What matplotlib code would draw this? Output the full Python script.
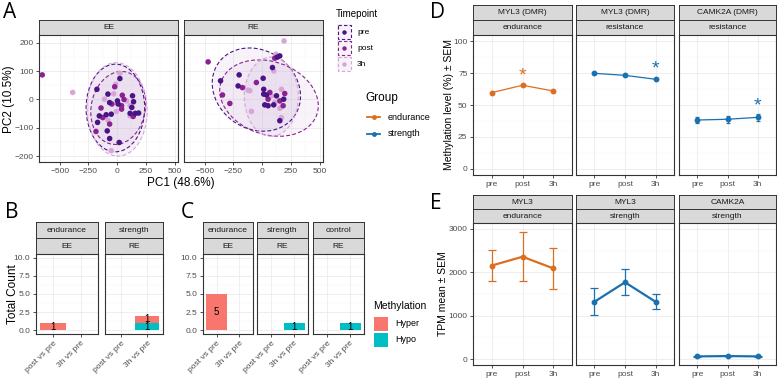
import numpy as np
import matplotlib
matplotlib.use('Agg')
import matplotlib.pyplot as plt
from matplotlib.patches import Ellipse, Rectangle
from matplotlib.lines import Line2D

plt.rcParams['font.family'] = ['Liberation Sans', 'DejaVu Sans']

# ---------------- DATA ----------------
timepoints = ['pre', 'post', '3h']
tp_colors = {'pre': '#4A1486', 'post': '#8A2291', '3h': '#D8A5D8'}

EE_pc1 = [-652, -387, 24, 24, -12, -21, -176, 45, 134, -80, -110, -65, -45, 3, 9, 39, 83, 143, 128, 113,
          39, -6, -51, -95, -125, -155, -170, -80, 113, 158, 187, 113, -65, -86, -184, -65, 18, -51, 60, -30, 140, -140]
EE_pc2 = [87, 25, 93, 74, 54, 45, 36, 15, 13, 19, 1, -11, -16, -5, -16, -22, -5, -8, -28, -22,
          -34, -42, -52, -54, -64, -58, -81, -73, -49, -49, -48, -58, -87, -111, -113, -138, -152, -181, 0, 20, -60, -30]
EE_tp = ['post', '3h', '3h', 'pre', '3h', 'post', 'pre', 'post', 'pre', 'pre', '3h', 'pre', 'post', 'pre', 'pre',
         'post', '3h', 'pre', 'pre', '3h', 'post', '3h', 'pre', 'pre', 'post', 'pre', 'pre', '3h', 'pre', 'pre',
         'pre', '3h', 'post', 'pre', 'post', 'pre', 'pre', '3h', 'post', '3h', 'post', 'post']

RE_pc1 = [-470, 191, 154, 133, 110, 90, 101, 9, -200, -362, -209, -171, -122, -107, 14, -345, 14, 38, 67, 81,
          168, 197, 125, 188, 52, 110, 154, 23, 52, 101, 183, 154, -281, -93, 168, 154, 120, -50]
RE_pc2 = [133, 207, 154, 150, 146, 113, 101, 75, 87, 66, 48, 42, 33, 31, 36, 16, 19, 16, 25, 13,
          36, 21, 13, 1, 1, -11, -5, -19, -22, -19, -22, -31, -14, -42, -64, -75, 160, 60]
RE_tp = ['post', '3h', 'pre', 'pre', 'post', 'pre', '3h', 'pre', 'pre', 'pre', 'pre', 'post', '3h', '3h', 'pre',
         'post', 'pre', 'pre', 'post', '3h', '3h', 'post', 'pre', 'pre', 'post', '3h', 'post', 'pre', 'pre', 'pre',
         'post', '3h', 'post', '3h', '3h', 'pre', '3h', 'post']

# ellipse parameters per timepoint (cx, cy, semi-x, semi-y, angle)
EE_ell = {'pre': (-15, -30, 255, 155, 0), 'post': (10, -30, 240, 128, 5), '3h': (0, -35, 262, 165, -2)}
RE_ell = {'pre': (-50, 35, 385, 145, -4), 'post': (60, 5, 430, 132, -4), '3h': (80, 10, 235, 140, 0)}

comparisons = ['post vs pre', '3h vs pre']
B_facets = [('endurance', 'EE'), ('strength', 'RE')]
B_hyper = [[1, 0], [0, 1]]
B_hypo = [[0, 0], [0, 1]]
C_facets = [('endurance', 'EE'), ('strength', 'RE'), ('control', 'RE')]
C_hyper = [[5, 0], [0, 0], [0, 0]]
C_hypo = [[0, 0], [0, 1], [0, 1]]
meth_colors = {'Hyper': '#F8766D', 'Hypo': '#00BFC4'}

group_colors = {'endurance': '#DC6E1F', 'strength': '#1B70AF'}

D_titles = [('MYL3 (DMR)', 'endurance'), ('MYL3 (DMR)', 'resistance'), ('CAMK2A (DMR)', 'resistance')]
D_groups = ['endurance', 'strength', 'strength']
D_mean = [[59.7, 65.5, 61.0], [74.9, 73.3, 70.2], [38.2, 38.8, 40.3]]
D_sem = [[0.8, 0.8, 0.8], [0.6, 0.6, 0.6], [2.7, 2.7, 2.7]]
D_star = [[None, 72.8, None], [None, None, 78.0], [None, None, 49.5]]

E_titles = [('MYL3', 'endurance'), ('MYL3', 'strength'), ('CAMK2A', 'strength')]
E_groups = ['endurance', 'strength', 'strength']
E_mean = [[2155, 2360, 2090], [1320, 1770, 1320], [60, 68, 60]]
E_sem = [[365, 570, 470], [310, 300, 172], [8, 8, 8]]

# ---------------- LAYOUT HELPERS ----------------
W, H = 777, 378
fig = plt.figure(figsize=(W / 100, H / 100), dpi=100)

STRIP_FC = '#D9D9D9'
BORDER = '#333333'
GRID = '#EBEBEB'
TICKC = '#4D4D4D'


def ax_px(x0, y0, x1, y1, **kw):
    return fig.add_axes([x0 / W, 1 - y1 / H, (x1 - x0) / W, (y1 - y0) / H], **kw)


def ftext(x, y, s, **kw):
    fig.text(x / W, 1 - y / H, s, **kw)


def strip(x0, y0, x1, y1, text):
    a = ax_px(x0, y0, x1, y1)
    a.set_xticks([]); a.set_yticks([])
    a.set_facecolor(STRIP_FC)
    for s in a.spines.values():
        s.set_color(BORDER); s.set_linewidth(0.7)
    a.text(0.5, 0.48, text, ha='center', va='center', fontsize=6, color='#1A1A1A', transform=a.transAxes)
    return a


def panel(x0, y0, x1, y1):
    a = ax_px(x0, y0, x1, y1)
    for s in a.spines.values():
        s.set_color(BORDER); s.set_linewidth(0.8)
    a.tick_params(which='major', colors=BORDER, labelcolor=TICKC, labelsize=6, length=2.5, width=0.6, pad=1.5)
    a.tick_params(which='minor', length=0)
    a.grid(True, which='major', color=GRID, lw=0.6)
    a.grid(True, which='minor', color='#F4F4F4', lw=0.35)
    a.set_axisbelow(True)
    return a


LETTER = dict(fontsize=15, family=['Open Sans', 'DejaVu Sans'], color='black', va='center', ha='left')

# ---------------- PANEL A ----------------
ftext(3, 12, 'A', **LETTER)
A_x = [(39, 178), (184, 323)]
A_data = [(EE_pc1, EE_pc2, EE_tp, EE_ell, 'EE'), (RE_pc1, RE_pc2, RE_tp, RE_ell, 'RE')]
for i, ((x0, x1), (p1, p2, tps, ell, name)) in enumerate(zip(A_x, A_data)):
    strip(x0, 20, x1, 35, name)
    a = panel(x0, 35, x1, 162)
    a.set_xlim(-680, 530)
    a.set_ylim(-221, 228)
    a.set_xticks([-500, -250, 0, 250, 500])
    a.set_xticks([-625, -375, -125, 125, 375], minor=True)
    a.set_yticks([-200, -100, 0, 100, 200])
    a.set_yticks([-150, -50, 50, 150], minor=True)
    if i > 0:
        a.tick_params(axis='y', labelleft=False, length=0)
    for tp in timepoints:
        cx, cy, sa, sb, ang = ell[tp]
        a.add_patch(Ellipse((cx, cy), 2 * sa, 2 * sb, angle=ang, facecolor='#C9A9D6', alpha=0.13,
                            edgecolor='none', zorder=2))
        a.add_patch(Ellipse((cx, cy), 2 * sa, 2 * sb, angle=ang, facecolor='none', edgecolor=tp_colors[tp],
                            lw=0.8, ls=(0, (3.5, 2)), zorder=3))
    p1 = np.array(p1); p2 = np.array(p2); tps = np.array(tps)
    for tp in ['3h', 'post', 'pre']:
        m = tps == tp
        a.scatter(p1[m], p2[m], s=16, color=tp_colors[tp], edgecolors='none', zorder=4)
ftext(9, 99, 'PC2 (10.5%)', fontsize=8.5, rotation=90, ha='center', va='center', color='black')
ftext(181, 183, 'PC1 (48.6%)', fontsize=8.5, ha='center', va='center', color='black')

# legends (figure-pixel overlay)
ov = fig.add_axes([0, 0, 1, 1], zorder=-5)
ov.set_xlim(0, W); ov.set_ylim(H, 0); ov.axis('off')
ov.text(336, 14, 'Timepoint', fontsize=7, va='center', ha='left')
for k, tp in enumerate(timepoints):
    y0 = 24 + k * 16
    ov.add_patch(Rectangle((337, y0), 14, 15, facecolor='#C9A9D6', alpha=0.15, edgecolor='none'))
    ov.add_patch(Rectangle((337.5, y0 + 0.5), 13, 14, facecolor='none', edgecolor=tp_colors[tp], lw=0.8,
                           ls=(0, (3, 2))))
    ov.plot([344], [y0 + 7.5], 'o', ms=3.2, color=tp_colors[tp], mec='none')
    ov.text(357, y0 + 8, tp, fontsize=6, va='center', ha='left')
ov.text(365, 98, 'Group', fontsize=8.5, va='center', ha='left')
for k, g in enumerate(['endurance', 'strength']):
    y = 117 + k * 16.5
    ov.plot([367, 380], [y, y], '-', color=group_colors[g], lw=1.3)
    ov.plot([373.5], [y], 'o', ms=2.5, color=group_colors[g])
    ov.text(388, y, g, fontsize=6.5, va='center', ha='left')

# ---------------- PANELS B, C ----------------
def bar_facets(xs, facets, hyper, hypo):
    for i, ((x0, x1), (t1, t2)) in enumerate(zip(xs, facets)):
        strip(x0, 222, x1, 238, t1)
        strip(x0, 238, x1, 254, t2)
        a = panel(x0, 254, x1, 334)
        pos = np.arange(len(comparisons))
        a.bar(pos, hypo[i], width=0.9, color=meth_colors['Hypo'], zorder=3)
        a.bar(pos, hyper[i], width=0.9, bottom=hypo[i], color=meth_colors['Hyper'], zorder=3)
        for j in range(len(comparisons)):
            if hypo[i][j] > 0:
                a.text(pos[j], hypo[i][j] / 2, str(hypo[i][j]), ha='center', va='center', fontsize=7, zorder=5)
            if hyper[i][j] > 0:
                a.text(pos[j], hypo[i][j] + hyper[i][j] / 2, str(hyper[i][j]), ha='center', va='center',
                       fontsize=7, zorder=5)
        a.set_xlim(-0.6, 1.6)
        a.set_ylim(-0.5, 10.5)
        a.set_yticks([0, 2.5, 5, 7.5, 10])
        a.set_yticklabels(['0.0', '2.5', '5.0', '7.5', '10.0'])
        a.set_yticks([1.25, 3.75, 6.25, 8.75], minor=True)
        a.set_xticks(pos)
        a.set_xticklabels(comparisons, rotation=45, ha='right', va='top', rotation_mode='anchor')
        if i > 0:
            a.tick_params(axis='y', labelleft=False, length=0)


ftext(5, 213, 'B', **LETTER)
bar_facets([(36, 98), (105, 163)], B_facets, B_hyper, B_hypo)
ftext(13, 294, 'Total Count', fontsize=8.5, rotation=90, ha='center', va='center')

ftext(181, 213, 'C', **LETTER)
bar_facets([(203, 253), (257, 308), (313, 364)], C_facets, C_hyper, C_hypo)

ov.text(373, 306, 'Methylation', fontsize=7.5, va='center', ha='left')
for k, mth in enumerate(['Hyper', 'Hypo']):
    y0 = 316 + k * 16
    ov.add_patch(Rectangle((374, y0 + 1), 14, 14, facecolor=meth_colors[mth], edgecolor='none'))
    ov.text(395, y0 + 8, mth, fontsize=6.5, va='center', ha='left')

# ---------------- PANELS D, E ----------------
DE_x = [(473, 572), (576, 674), (679, 776)]
ftext(430, 12, 'D', **LETTER)
for i, (x0, x1) in enumerate(DE_x):
    strip(x0, 5, x1, 20, D_titles[i][0])
    strip(x0, 20, x1, 35, D_titles[i][1])
    a = panel(x0, 35, x1, 175)
    col = group_colors[D_groups[i]]
    pos = np.arange(len(timepoints))
    a.errorbar(pos, D_mean[i], yerr=D_sem[i], color=col, lw=0.9, capsize=1.5, capthick=0.9,
               marker='o', ms=3.2, zorder=3)
    for j, s in enumerate(D_star[i]):
        if s is not None:
            a.text(pos[j], s, '*', color=col, fontsize=14, ha='center', va='center', zorder=4)
    a.set_xlim(-0.6, 2.6)
    a.set_ylim(-5, 105)
    a.set_xticks(pos)
    a.set_xticklabels(timepoints)
    a.set_yticks([0, 25, 50, 75, 100])
    a.set_yticks([12.5, 37.5, 62.5, 87.5], minor=True)
    if i > 0:
        a.tick_params(axis='y', labelleft=False, length=0)
ftext(449, 105, 'Methylation level (%) \u00b1 SEM', fontsize=7.5, rotation=90, ha='center', va='center')

ftext(430, 203, 'E', **LETTER)
for i, (x0, x1) in enumerate(DE_x):
    strip(x0, 195, x1, 209, E_titles[i][0])
    strip(x0, 209, x1, 223, E_titles[i][1])
    a = panel(x0, 223, x1, 365)
    col = group_colors[E_groups[i]]
    pos = np.arange(len(timepoints))
    a.errorbar(pos, E_mean[i], yerr=E_sem[i], color=col, lw=1.6, elinewidth=0.9, capsize=3, capthick=0.9,
               marker='o', ms=3.2, zorder=3)
    a.set_xlim(-0.6, 2.6)
    a.set_ylim(-138, 3138)
    a.set_xticks(pos)
    a.set_xticklabels(timepoints)
    a.set_yticks([0, 1000, 2000, 3000])
    a.set_yticks([500, 1500, 2500], minor=True)
    if i > 0:
        a.tick_params(axis='y', labelleft=False, length=0)
ftext(443, 294, 'TPM mean \u00b1 SEM', fontsize=7.5, rotation=90, ha='center', va='center')

fig.savefig('out.png', dpi=100)
